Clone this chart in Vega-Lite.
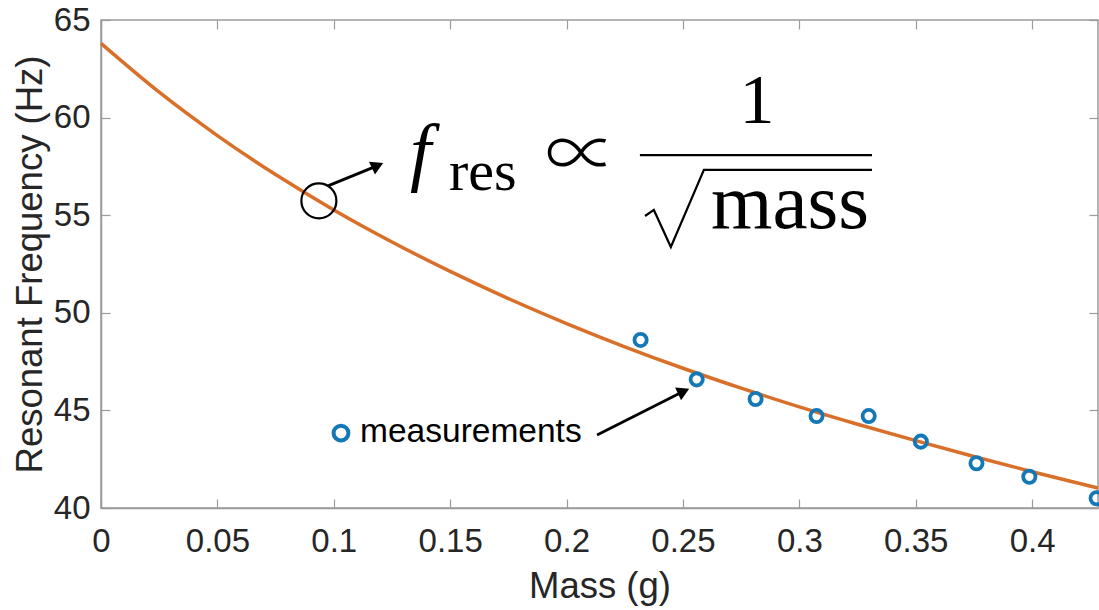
{
  "$schema": "https://vega.github.io/schema/vega-lite/v6.json",
  "width": 997,
  "height": 488,
  "autosize": "none",
  "padding": {"left": 101, "top": 20, "right": 1, "bottom": 102},
  "background": "white",
  "config": {
    "view": {"stroke": "#9a9a9a", "strokeWidth": 1.5},
    "axis": {
      "grid": false,
      "domainColor": "#9a9a9a",
      "domainWidth": 1.5,
      "tickColor": "#9a9a9a",
      "tickWidth": 1.2,
      "tickSize": -9,
      "labelFlush": false,
      "labelFont": "Liberation Sans",
      "labelFontSize": 33,
      "labelColor": "#262626",
      "titleFont": "Liberation Sans",
      "titleFontSize": 36.5,
      "titleFontWeight": "normal",
      "titleColor": "#262626"
    }
  },
  "datasets": {
    "fit": [
      {"mass": 0, "freq": 63.8},
      {"mass": 0.025, "freq": 61.3},
      {"mass": 0.05, "freq": 59.08},
      {"mass": 0.075, "freq": 57.08},
      {"mass": 0.1, "freq": 55.27},
      {"mass": 0.125, "freq": 53.63},
      {"mass": 0.15, "freq": 52.12},
      {"mass": 0.175, "freq": 50.73},
      {"mass": 0.2, "freq": 49.45},
      {"mass": 0.225, "freq": 48.26},
      {"mass": 0.25, "freq": 47.16},
      {"mass": 0.275, "freq": 46.14},
      {"mass": 0.3, "freq": 45.18},
      {"mass": 0.325, "freq": 44.29},
      {"mass": 0.35, "freq": 43.45},
      {"mass": 0.375, "freq": 42.64},
      {"mass": 0.4, "freq": 41.86},
      {"mass": 0.4283, "freq": 41.02}
    ],
    "measurements": [
      {"mass": 0.2318, "freq": 48.61},
      {"mass": 0.2559, "freq": 46.59},
      {"mass": 0.2812, "freq": 45.58},
      {"mass": 0.3074, "freq": 44.71},
      {"mass": 0.3298, "freq": 44.71},
      {"mass": 0.3522, "freq": 43.4},
      {"mass": 0.3761, "freq": 42.29},
      {"mass": 0.3988, "freq": 41.6},
      {"mass": 0.4277, "freq": 40.5}
    ]
  },
  "encoding": {
    "x": {"field": "mass", "type": "quantitative", "scale": {"domain": [0, 0.4283], "nice": false, "zero": false}, "axis": null},
    "y": {"field": "freq", "type": "quantitative", "scale": {"domain": [40, 65], "nice": false, "zero": false}, "axis": null}
  },
  "layer": [
    {
      "data": {"name": "fit"},
      "mark": {"type": "line", "color": "#D9702A", "strokeWidth": 3.5, "interpolate": "monotone"},
      "encoding": {
        "x": {"field": "mass", "type": "quantitative", "scale": {"domain": [0, 0.4283], "nice": false, "zero": false},
          "axis": {"orient": "bottom", "title": "Mass (g)", "values": [0, 0.05, 0.1, 0.15, 0.2, 0.25, 0.3, 0.35, 0.4], "format": "~g", "labelPadding": 26, "titlePadding": 10}},
        "y": {"field": "freq", "type": "quantitative", "scale": {"domain": [40, 65], "nice": false, "zero": false},
          "axis": {"orient": "left", "title": "Resonant Frequency (Hz)", "values": [40, 45, 50, 55, 60, 65], "labelPadding": 20, "titlePadding": 4}}
      }
    },
    {
      "data": {"name": "measurements"},
      "mark": {"type": "point", "shape": "circle", "filled": false, "stroke": "#1578B6", "strokeWidth": 3.8, "size": 150, "opacity": 1},
      "encoding": {
        "x": {"field": "mass", "type": "quantitative", "scale": {"domain": [0, 0.4283], "nice": false, "zero": false},
          "axis": {"orient": "top", "title": null, "labels": false, "domain": false, "values": [0, 0.05, 0.1, 0.15, 0.2, 0.25, 0.3, 0.35, 0.4]}},
        "y": {"field": "freq", "type": "quantitative", "scale": {"domain": [40, 65], "nice": false, "zero": false},
          "axis": {"orient": "right", "title": null, "labels": false, "domain": false, "values": [40, 45, 50, 55, 60, 65]}}
      }
    },
    {
      "data": {"values": [{"mass": 0.1031, "freq": 43.84}]},
      "mark": {"type": "point", "shape": "circle", "filled": false, "stroke": "#1578B6", "strokeWidth": 4, "size": 220, "opacity": 1}
    },
    {
      "data": {"values": [{"mass": 0.1113, "freq": 43.89, "label": "measurements"}]},
      "mark": {"type": "text", "align": "left", "baseline": "middle", "font": "Liberation Sans", "fontSize": 33.5, "color": "#000000"},
      "encoding": {"text": {"field": "label"}}
    },
    {
      "data": {"values": [{"mass": 0.0936, "freq": 55.73}]},
      "mark": {"type": "point", "shape": "circle", "filled": false, "stroke": "#000000", "strokeWidth": 2.2, "size": 1225, "opacity": 1}
    },
    {
      "data": {"values": [
        {"mass": 0.0975, "freq": 56.5, "mass2": 0.1188, "freq2": 57.54},
        {"mass": 0.2131, "freq": 43.74, "mass2": 0.2503, "freq2": 45.98}
      ]},
      "mark": {"type": "rule", "color": "#000000", "strokeWidth": 2.8},
      "encoding": {
        "x2": {"field": "mass2"},
        "y2": {"field": "freq2"}
      }
    },
    {
      "data": {"values": [
        {"mass": 0.1188, "freq": 57.54},
        {"mass": 0.2503, "freq": 45.98}
      ]},
      "mark": {"type": "point", "shape": "triangle-right", "filled": true, "color": "#000000", "size": 200, "angle": -25, "opacity": 1}
    },
    {
      "data": {"values": [{"mass": 0.1327, "freq": 56.96, "label": "f"}]},
      "mark": {"type": "text", "align": "left", "baseline": "alphabetic", "font": "Liberation Serif", "fontStyle": "italic", "fontSize": 76, "color": "#000000"},
      "encoding": {"text": {"field": "label"}}
    },
    {
      "data": {"values": [{"mass": 0.1495, "freq": 56.29, "label": "res"}]},
      "mark": {"type": "text", "align": "left", "baseline": "alphabetic", "font": "Liberation Serif", "fontSize": 58, "color": "#000000"},
      "encoding": {"text": {"field": "label"}}
    },
    {
      "data": {"values": [{"mass": 0.2062, "freq": 57.98, "label": "∝"}]},
      "mark": {"type": "text", "align": "center", "baseline": "middle", "font": "Noto Sans CJK JP", "fontWeight": 300, "fontSize": 72, "color": "#000000"},
      "encoding": {"text": {"field": "label"}}
    },
    {
      "data": {"values": [{"mass": 0.2818, "freq": 59.72, "label": "1"}]},
      "mark": {"type": "text", "align": "center", "baseline": "alphabetic", "font": "Liberation Serif", "fontSize": 70, "color": "#000000"},
      "encoding": {"text": {"field": "label"}}
    },
    {
      "data": {"values": [{"mass": 0.2315, "freq": 58.08, "mass2": 0.3312}]},
      "mark": {"type": "rule", "color": "#000000", "strokeWidth": 2.2},
      "encoding": {"x2": {"field": "mass2"}}
    },
    {
      "data": {"values": [
        {"mass": 0.2337, "freq": 54.96},
        {"mass": 0.2375, "freq": 55.27},
        {"mass": 0.2448, "freq": 53.37},
        {"mass": 0.259, "freq": 57.32},
        {"mass": 0.3312, "freq": 57.32}
      ]},
      "mark": {"type": "line", "color": "#000000", "strokeWidth": 2.2, "strokeJoin": "miter"}
    },
    {
      "data": {"values": [{"mass": 0.296, "freq": 54.34, "label": "mass"}]},
      "mark": {"type": "text", "align": "center", "baseline": "alphabetic", "font": "Liberation Serif", "fontSize": 79, "color": "#000000"},
      "encoding": {"text": {"field": "label"}}
    }
  ],
  "resolve": {"axis": {"x": "independent", "y": "independent"}}
}
